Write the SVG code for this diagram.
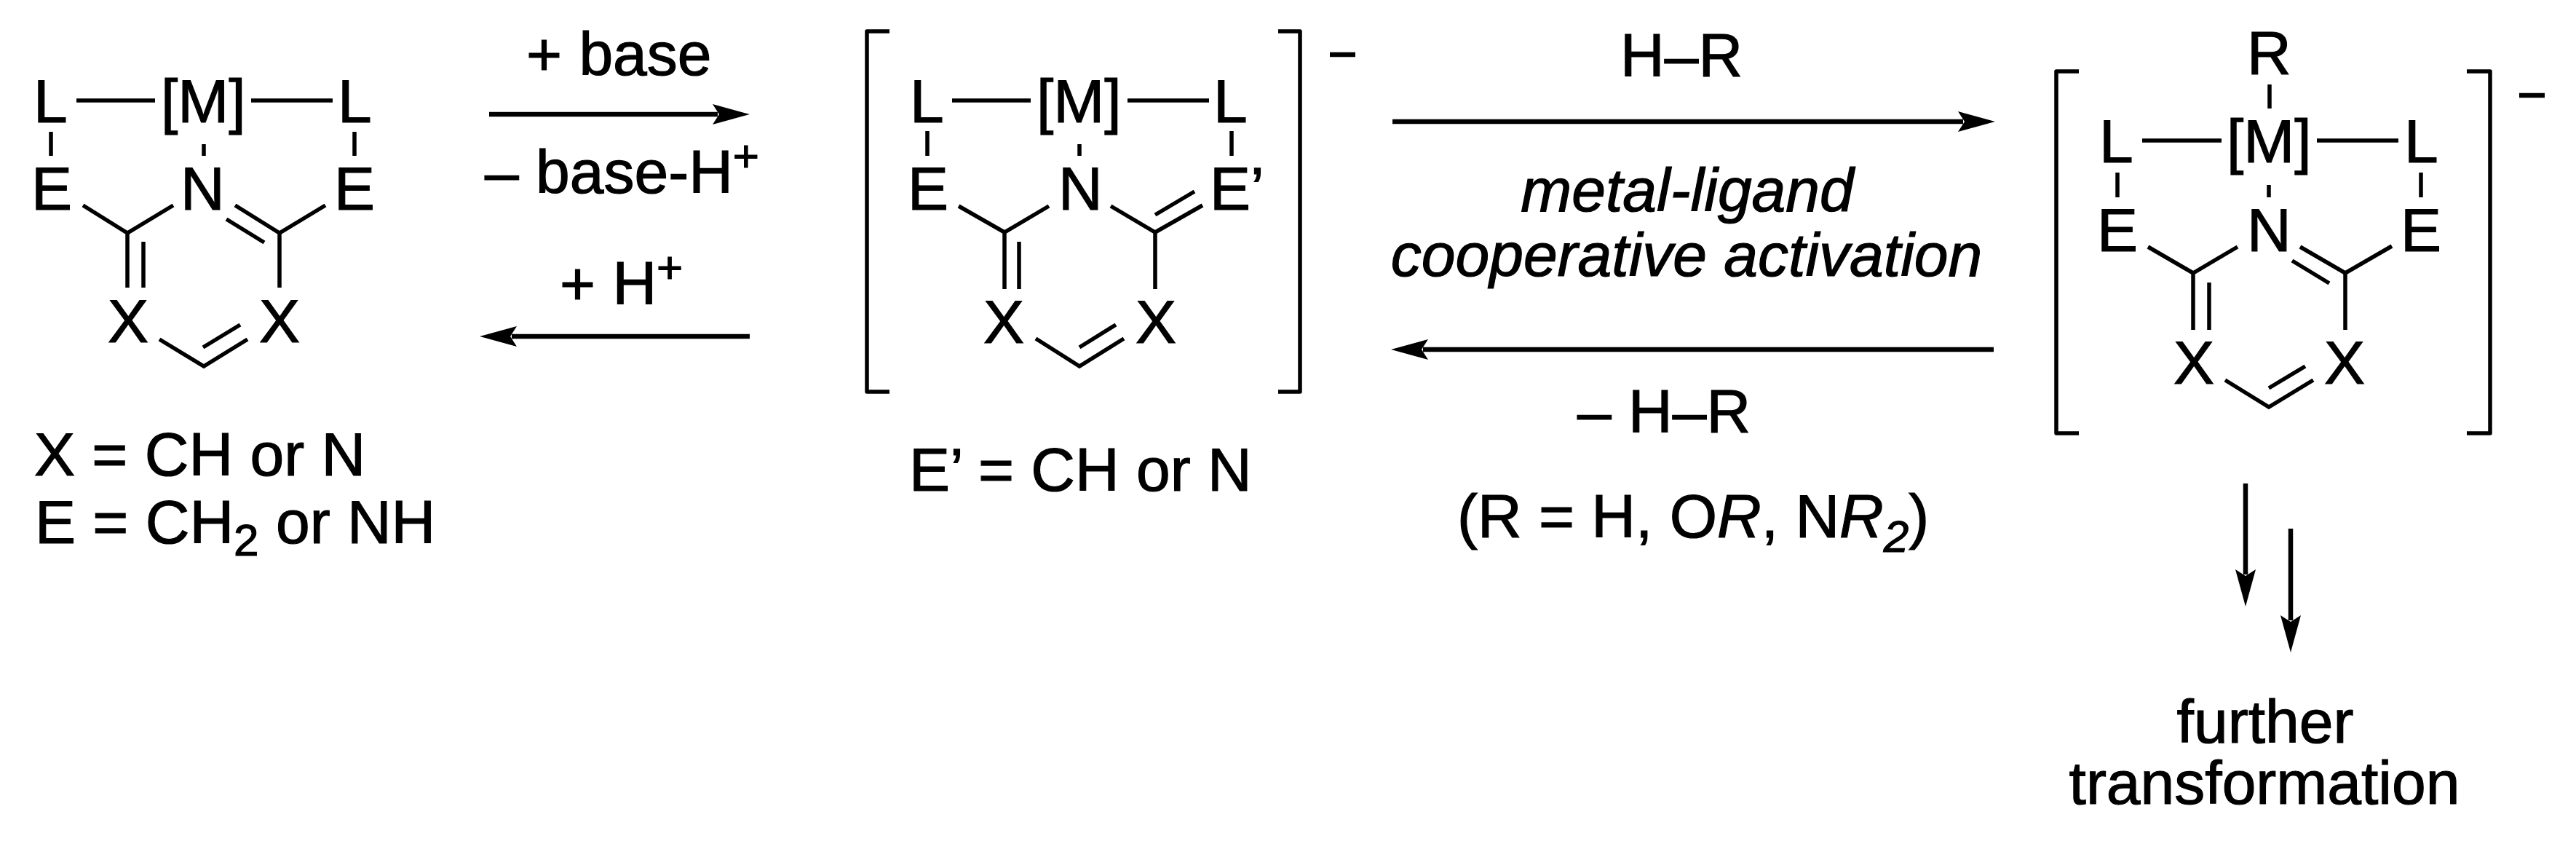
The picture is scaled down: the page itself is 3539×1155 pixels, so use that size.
<svg xmlns="http://www.w3.org/2000/svg" width="3539" height="1155" viewBox="0 0 3539 1155">
<style>
text{font-family:"Liberation Sans",Arial,sans-serif;font-size:84px;fill:#000;stroke:#000;stroke-width:1.2}
.i{font-style:italic}
.s{font-size:62px}
.b{stroke:#000;stroke-width:5.5;fill:none}
.k{stroke:#000;stroke-width:5.5;fill:none;stroke-linejoin:round}
.a{stroke:#000;stroke-width:6.5;fill:none;marker-end:url(#h)}
.m{stroke:#000;stroke-width:6.5}
</style>
<defs>
<marker id="h" markerUnits="userSpaceOnUse" markerWidth="52" markerHeight="30" refX="7" refY="15" orient="auto" viewBox="0 0 52 30"><path d="M0 1L51 15L0 29L9 15Z" fill="#000"/></marker>
</defs>
<rect width="3539" height="1155" fill="#fff"/>
<g id="complex-1">
<text x="46" y="168">L</text><text x="221" y="168">[M]</text><text x="464" y="168">L</text>
<text x="43" y="288">E</text><text x="248" y="288">N</text><text x="459" y="288">E</text>
<text x="148" y="470">X</text><text x="356" y="470">X</text>
<path class="b" d="M105 138H213M345 138H457M70 181V214M487 181V214M280 198V214M114 282L175 320L238 282M175 320V395M197 332V395M323 282L384 320L447 282M311 301L363 333M384 320V395M219 466L280 503L340 466M279 477L330 446"/>
<text x="47" y="653">X = CH or N</text>
<text x="48" y="746">E = CH<tspan class="s" dy="17">2</tspan><tspan dy="-17"> or NH</tspan></text>
</g>
<g id="complex-2">
<path class="k" d="M1222 43H1191V538H1222M1756 43H1786V538H1756"/>
<path class="m" d="M1827 75H1862"/>
<text x="1250" y="168">L</text><text x="1424" y="168">[M]</text><text x="1667" y="168">L</text>
<text x="1247" y="288">E</text><text x="1454" y="288">N</text><text x="1662" y="288">E’</text>
<text x="1351" y="471">X</text><text x="1560" y="471">X</text>
<path class="b" d="M1308 138H1416M1549 138H1661M1274 180V214M1692 180V214M1483 198V214M1317 283L1380 319L1441 283M1380 319V397M1400 332V397M1526 283L1587 319L1652 282M1587 295L1641 263M1587 319V397M1423 465L1483 503L1544 465M1483 477L1533 446"/>
<text x="1249" y="674">E’ = CH or N</text>
</g>
<g id="complex-3">
<path class="k" d="M2856 98H2825V595H2856M3389 98H3421V595H3389"/>
<path class="m" d="M3461 131H3496"/>
<text x="3087" y="102">R</text>
<text x="2884" y="223">L</text><text x="3059" y="223">[M]</text><text x="3303" y="223">L</text>
<text x="2881" y="345">E</text><text x="3087" y="345">N</text><text x="3298" y="345">E</text>
<text x="2986" y="527">X</text><text x="3193" y="527">X</text>
<path class="b" d="M3118 116V149M2943 193H3052M3183 193H3295M2909 237V271M3326 237V271M3117 254V271M2951 339L3013 375L3074 339M3013 375V453M3035 388V453M3160 339L3222 375L3286 338M3149 358L3200 389M3222 375V453M3057 522L3117 559L3178 522M3117 533L3167 503"/>
</g>
<g id="connectors">
<line class="a" x1="672" y1="157" x2="986" y2="157"/>
<line class="a" x1="1030" y1="462" x2="703" y2="462"/>
<line class="a" x1="1913" y1="167" x2="2697" y2="167"/>
<line class="a" x1="2739" y1="480" x2="1955" y2="480"/>
<line class="a" x1="3085" y1="664" x2="3085" y2="789"/>
<line class="a" x1="3147" y1="726" x2="3147" y2="852"/>
</g>
<g id="labels">
<text x="723" y="103">+ base</text>
<text x="666" y="265">– base-H<tspan class="s" dy="-30">+</tspan></text>
<text x="769" y="418">+ H<tspan class="s" dy="-30">+</tspan></text>
<text x="2226" y="105">H–R</text>
<text class="i" x="2318" y="290" text-anchor="middle">metal-ligand</text>
<text class="i" x="2317" y="379" text-anchor="middle">cooperative activation</text>
<text x="2167" y="594">– H–R</text>
<text x="2002" y="738">(R = H, O<tspan class="i">R</tspan>, N<tspan class="i">R</tspan><tspan class="i s" dy="20">2</tspan><tspan dy="-20">)</tspan></text>
<text x="3112" y="1020" text-anchor="middle">further</text>
<text x="3111" y="1104" text-anchor="middle">transformation</text>
</g>
</svg>
